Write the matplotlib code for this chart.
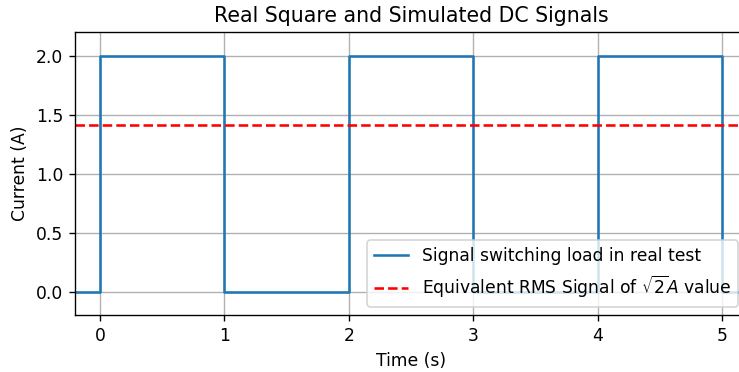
import matplotlib
matplotlib.use('Agg')
import matplotlib.pyplot as plt

# square wave switching points (s) and current level (A) after each point
switch_times = [-0.2, 0, 1, 2, 3, 4, 5, 5.2]
current_levels = [0, 2, 0, 2, 0, 2, 0, 0]
rms_value = 2 ** 0.5

DPI = 123.2
fig = plt.figure(figsize=(739 / DPI, 372 / DPI), dpi=DPI)
# right edge of the axes sits just past the picture edge, as in the reference crop
ax = fig.add_axes([0.1016, 0.153, 0.909, 0.760])

ax.plot(switch_times, current_levels, drawstyle='steps-post', color='#1f77b4',
        label='Signal switching load in real test')
ax.axhline(rms_value, color='red', linestyle='--',
           label=r'Equivalent RMS Signal of $\sqrt{2}A$ value')

ax.set_xlim(-0.2, 5.2)
ax.set_ylim(-0.2, 2.2)
ax.set_xticks([0, 1, 2, 3, 4, 5])
ax.set_yticks([0.0, 0.5, 1.0, 1.5, 2.0])
ax.set_xlabel('Time (s)')
ax.set_ylabel('Current (A)')
ax.set_title('Real Square and Simulated DC Signals')
ax.grid(True)
ax.legend(loc='lower right')

fig.savefig('out.png', dpi=DPI)
